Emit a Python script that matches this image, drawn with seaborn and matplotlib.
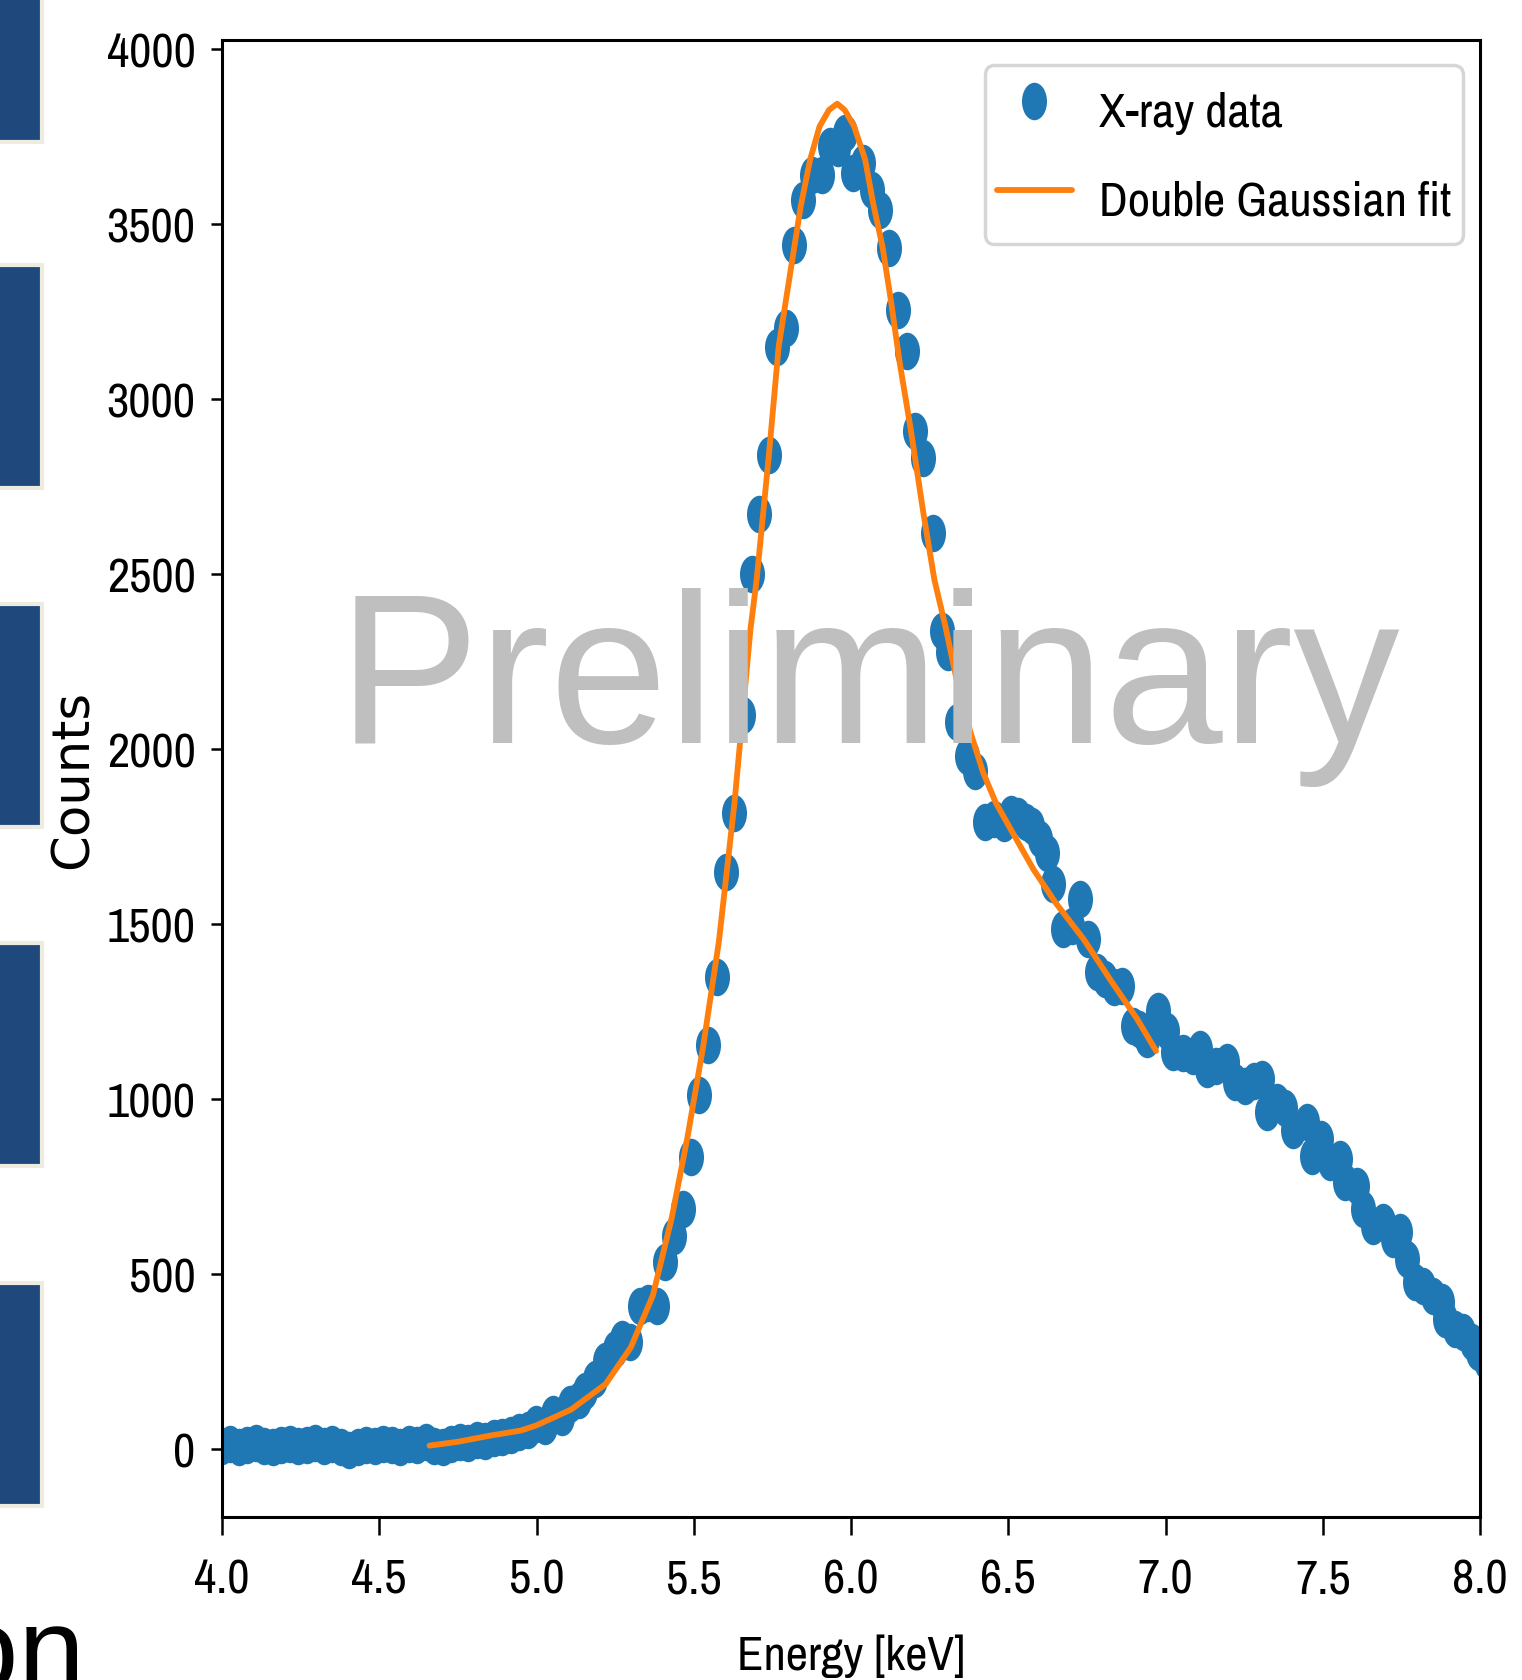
import pandas as pd
import seaborn as sns
import matplotlib.pyplot as plt
from matplotlib import font_manager
from matplotlib.path import Path
from matplotlib.transforms import Affine2D
from matplotlib.patches import Rectangle

# Данные
energy = [4.000, 4.027, 4.054, 4.081, 4.108, 4.135, 4.162, 4.189, 4.216, 4.243,
          4.270, 4.297, 4.324, 4.351, 4.378, 4.405, 4.432, 4.459, 4.486, 4.513,
          4.540, 4.567, 4.594, 4.621, 4.648, 4.675, 4.702, 4.729, 4.756, 4.783,
          4.810, 4.837, 4.864, 4.891, 4.918, 4.945, 4.972, 4.999, 5.026, 5.053,
          5.080, 5.107, 5.134, 5.154, 5.186, 5.218, 5.250, 5.271, 5.297, 5.329,
          5.355, 5.382, 5.409, 5.437, 5.467, 5.491, 5.517, 5.546, 5.573, 5.602,
          5.629, 5.656, 5.684, 5.708, 5.739, 5.766, 5.793, 5.819, 5.846, 5.875,
          5.907, 5.933, 5.958, 5.981, 6.007, 6.039, 6.066, 6.092, 6.122, 6.150,
          6.177, 6.203, 6.230, 6.260, 6.288, 6.309, 6.336, 6.368, 6.394, 6.426,
          6.455, 6.485, 6.508, 6.532, 6.555, 6.575, 6.601, 6.622, 6.643, 6.675,
          6.702, 6.728, 6.755, 6.781, 6.808, 6.835, 6.861, 6.898, 6.915, 6.940,
          6.977, 7.004, 7.025, 7.057, 7.088, 7.110, 7.131, 7.160, 7.194, 7.221,
          7.253, 7.280, 7.306, 7.322, 7.354, 7.380, 7.406, 7.449, 7.465, 7.496,
          7.523, 7.555, 7.571, 7.608, 7.629, 7.661, 7.693, 7.724, 7.746, 7.767,
          7.793, 7.820, 7.852, 7.878, 7.889, 7.920, 7.947, 7.973, 7.995, 8.020]
counts = [8, 14, 6, 11, 17, 9, 4, 12, 15, 7,
          10, 16, 9, 13, 5, -4, 6, 12, 8, 14,
          10, 6, 15, 11, 18, 9, 5, 13, 20, 16,
          24, 21, 30, 34, 40, 47, 55, 72, 64, 100,
          92, 128, 140, 165, 200, 250, 285, 314, 305, 408,
          418, 408, 534, 608, 685, 834, 1011, 1153, 1348, 1649,
          1817, 2098, 2500, 2670, 2841, 3150, 3204, 3439, 3569, 3641,
          3641, 3722, 3718, 3761, 3646, 3675, 3598, 3541, 3432, 3255,
          3136, 2908, 2832, 2618, 2337, 2276, 2076, 1979, 1936, 1790,
          1800, 1789, 1815, 1808, 1790, 1780, 1742, 1704, 1613, 1485,
          1495, 1571, 1456, 1362, 1342, 1320, 1322, 1208, 1200, 1171,
          1251, 1195, 1133, 1130, 1122, 1142, 1085, 1095, 1105, 1048,
          1037, 1050, 1057, 962, 991, 975, 910, 934, 837, 885,
          819, 828, 762, 751, 685, 637, 648, 600, 620, 543,
          477, 465, 437, 420, 371, 343, 334, 306, 277, 250]

fit_energy = [4.66, 4.75, 4.855, 4.95, 5.00, 5.11, 5.22, 5.30, 5.37, 5.43,
              5.48, 5.53, 5.58, 5.63, 5.68, 5.70, 5.74, 5.77, 5.81, 5.84,
              5.87, 5.90, 5.93, 5.956, 5.98, 6.01, 6.045, 6.07, 6.10, 6.125,
              6.155, 6.19, 6.23, 6.265, 6.30, 6.34, 6.38, 6.42, 6.46, 6.52,
              6.58, 6.65, 6.74, 6.83, 6.91, 6.97]
fit_counts = [9, 20, 38, 52, 67, 112, 185, 290, 438, 660,
              890, 1150, 1450, 1850, 2340, 2484, 2850, 3150, 3379, 3550,
              3684, 3779, 3826, 3844, 3826, 3779, 3684, 3561, 3436, 3293,
              3103, 2913, 2675, 2484, 2351, 2180, 2047, 1933, 1847, 1751,
              1656, 1561, 1456, 1333, 1228, 1137]

x_ticks = [4.0, 4.5, 5.0, 5.5, 6.0, 6.5, 7.0, 7.5, 8.0]
y_ticks = [0, 500, 1000, 1500, 2000, 2500, 3000, 3500, 4000]

sns.set_style('ticks', rc={'axes.edgecolor': 'black', 'xtick.color': 'black',
                           'ytick.color': 'black', 'text.color': 'black',
                           'axes.labelcolor': 'black'})

# ищем узкий шрифт, иначе обычный DejaVu Sans
NARROW, STRETCH, TSIZE = 'DejaVu Sans', 'normal', 25
for f in font_manager.fontManager.ttflist:
    if 'Narrow' in f.name or 'Condensed' in f.name:
        NARROW, STRETCH, TSIZE = f.name, 'normal', 35
        break
    if f.stretch in ('condensed', 'semi-condensed') and f.name == 'DejaVu Sans':
        NARROW, STRETCH, TSIZE = 'DejaVu Sans', 'condensed', 30
plt.rcParams['font.family'] = [NARROW, 'DejaVu Sans']
plt.rcParams['font.stretch'] = STRETCH

W, H = 1522, 1681
fig = plt.figure(figsize=(W / 100, H / 100), dpi=100)
ax = fig.add_axes([222 / W, 1 - 1518 / H, (1480 - 222) / W, (1518 - 41) / H])

df = pd.DataFrame({'energy': energy, 'counts': counts})
fit_df = pd.DataFrame({'energy': fit_energy, 'counts': fit_counts})

# вытянутый по вертикали маркер
ellipse = Path.unit_circle().transformed(Affine2D().scale(1, 1.5))

sns.scatterplot(data=df, x='energy', y='counts', marker=ellipse, s=730,
                color='#1f77b4', linewidth=0, label='X-ray data', ax=ax)
sns.lineplot(data=fit_df, x='energy', y='counts', color='#ff7f0e', linewidth=4.2,
             sort=False, estimator=None, label='Double Gaussian fit', ax=ax)

ax.set_xlim(4.0, 8.0)
ax.set_ylim(-195, 4026)
ax.set_xticks(x_ticks)
ax.set_xticklabels([f'{t:.1f}' for t in x_ticks])
ax.set_yticks(y_ticks)
ax.tick_params(axis='y', length=8, width=1.8, pad=11, labelsize=TSIZE)
ax.tick_params(axis='x', length=13, width=1.8, pad=16, labelsize=TSIZE)
for sp in ax.spines.values():
    sp.set_linewidth(2.2)

ax.set_xlabel('Energy [keV]', fontsize=TSIZE)
ax.set_ylabel('Counts', fontsize=37, family='DejaVu Sans', fontstretch='normal')
ax.xaxis.set_label_coords(0.5, -0.079)
ax.yaxis.set_label_coords(-0.098, 0.5)

leg = ax.legend(loc='upper right', bbox_to_anchor=(0.9865, 0.9831), borderaxespad=0,
                prop={'family': NARROW, 'size': TSIZE, 'stretch': STRETCH},
                frameon=True, fancybox=True, framealpha=0.8, edgecolor='0.8',
                borderpad=0.25, labelspacing=0.45, handlelength=1.55,
                handleheight=1.72, handletextpad=0.55)
leg.get_frame().set_linewidth(2.5)

# синие плашки слайда слева
for top in [-80, 266, 605, 944, 1284]:
    fig.patches.append(Rectangle((-10 / W, 1 - (top + 223) / H), 52 / W, 223 / H,
                                 transform=fig.transFigure, facecolor='#1F497D',
                                 edgecolor='#EEECE1', linewidth=3))

fig.text(869 / W, 1 - 743 / H, 'Preliminary', ha='center', va='baseline',
         fontsize=153, color='#bfbfbf', family='Liberation Sans', zorder=10)
fig.text(85 / W, 1 - 1690 / H, 'on', ha='right', va='baseline',
         fontsize=86, family='Liberation Sans', color='black')

plt.savefig('out.png', dpi=100)
